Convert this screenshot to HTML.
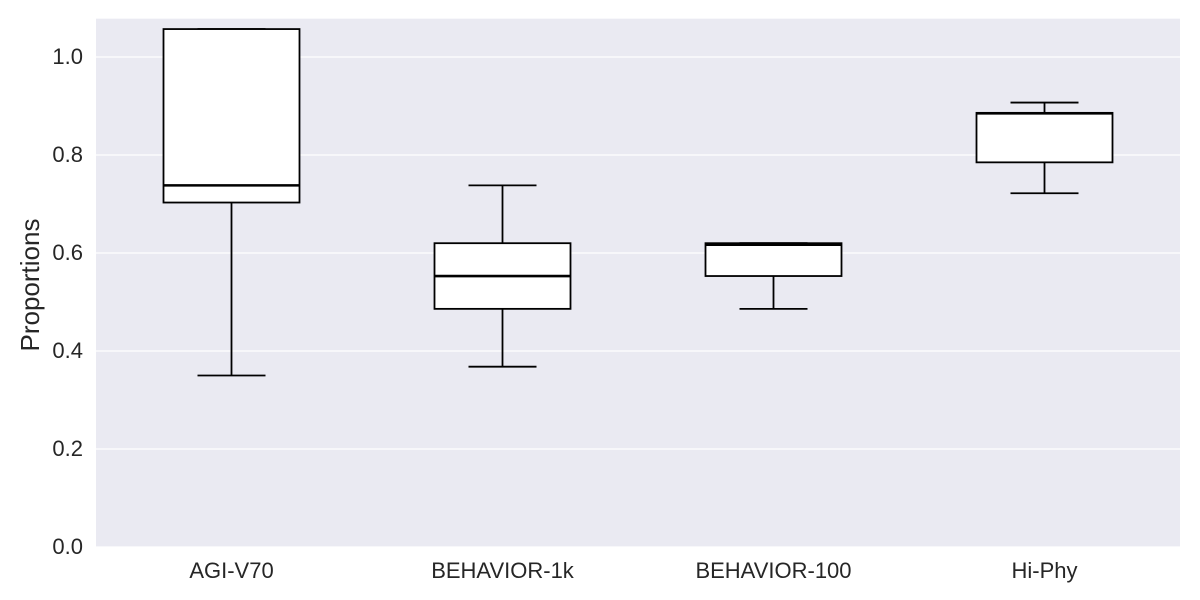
<!DOCTYPE html>
<html><head><meta charset="utf-8"><style>body{margin:0;background:#fff}svg{display:block;font-family:"Liberation Sans",sans-serif}</style></head>
<body>
<svg id="chart" width="1200" height="600"></svg>
<script>
const categories=["AGI-V70","BEHAVIOR-1k","BEHAVIOR-100","Hi-Phy"];
const whiskerLow=[0.350,0.368,0.486,0.722];
const q1=[0.703,0.486,0.553,0.785];
const median=[0.738,0.553,0.617,0.885];
const q3=[1.057,0.620,0.620,0.886];
const whiskerHigh=[1.057,0.738,0.620,0.907];
const yTicks=[0,0.2,0.4,0.6,0.8,1.0];
const yTickLabels=["0.0","0.2","0.4","0.6","0.8","1.0"];

const NS="http://www.w3.org/2000/svg";
const svg=document.getElementById('chart');
const L=96,R=1180,T=18.7,B=547,yMax=(B-T)/490;
const y=v=>B-v/yMax*(B-T);
const band=(R-L)/categories.length;
const x=i=>L+band*(i+0.5);
const bw=136;
function mk(tag,attrs,parent){const e=document.createElementNS(NS,tag);for(const k in attrs)e.setAttribute(k,attrs[k]);(parent||svg).appendChild(e);return e;}
const bg=mk('rect',{x:L,y:T,width:R-L,height:B-T,fill:'#eaeaf2'});


yTicks.forEach((t,i)=>{
 const g=mk('line',{x1:L,x2:R,y1:y(t),y2:y(t),stroke:'#fff','stroke-width':1.2});
 
 
 const tx=mk('text',{x:L-13,y:y(t)+7,'text-anchor':'end','font-size':22,fill:'#262626'});
 tx.textContent=yTickLabels[i];
 
 
});
categories.forEach((c,i)=>{
 const g=mk('g',{});
 
 
 const cx=x(i),cap=bw/4;
 mk('line',{x1:cx,x2:cx,y1:y(whiskerLow[i]),y2:y(q1[i]),stroke:'#000','stroke-width':1.8},g);
 mk('line',{x1:cx,x2:cx,y1:y(q3[i]),y2:y(whiskerHigh[i]),stroke:'#000','stroke-width':1.8},g);
 mk('line',{x1:cx-cap,x2:cx+cap,y1:y(whiskerLow[i]),y2:y(whiskerLow[i]),stroke:'#000','stroke-width':1.8},g);
 mk('line',{x1:cx-cap,x2:cx+cap,y1:y(whiskerHigh[i]),y2:y(whiskerHigh[i]),stroke:'#000','stroke-width':1.8},g);
 mk('rect',{x:cx-bw/2,y:y(q3[i]),width:bw,height:y(q1[i])-y(q3[i]),fill:'#fff',stroke:'#000','stroke-width':1.8},g);
 mk('line',{x1:cx-bw/2,x2:cx+bw/2,y1:y(median[i]),y2:y(median[i]),stroke:'#000','stroke-width':2.6},g);
 const tx=mk('text',{x:cx,y:578,'text-anchor':'middle','font-size':22,fill:'#262626'});
 tx.textContent=c;
 
 
});
const yl=mk('text',{x:0,y:0,transform:'translate(39,285) rotate(-90)','text-anchor':'middle','font-size':26,fill:'#262626'});
yl.textContent='Proportions';


</script>
</body></html>
